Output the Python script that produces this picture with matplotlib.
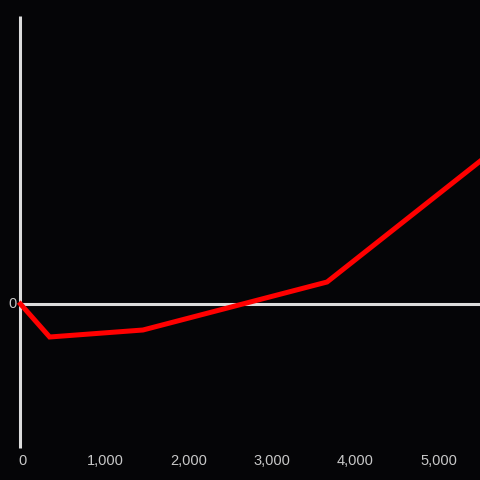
import matplotlib
matplotlib.use('Agg')
import matplotlib.pyplot as plt
import matplotlib.transforms as mtransforms

# values (y has no scale, only zero is labelled)
x_vals = [0, 350, 1470, 3680, 5520]
y_vals = [0, -33, -26, 22, 143]
x_ticks = [0, 1000, 2000, 3000, 4000, 5000]
x_labels = ['0', '1,000', '2,000', '3,000', '4,000', '5,000']

bg = '#050507'
axis_col = '#dcdcdc'
text_col = '#c8c8c8'

fig = plt.figure(figsize=(4.8, 4.8), dpi=100, facecolor=bg)
ax = fig.add_axes([0, 0, 1, 1], facecolor=bg)
ax.set_xlim(-246, 5516)
ax.set_ylim(-176, 304)
ax.axis('off')

# axis lines
ax.plot([0, 0], [-144, 288], color=axis_col, lw=2.2, solid_capstyle='butt', zorder=1)
ax.plot([0, 5516], [0, 0], color=axis_col, lw=2.2, solid_capstyle='butt', zorder=1)

ax.plot(x_vals, y_vals, color='#ff0000', lw=3.6, solid_joinstyle='miter', zorder=3)

trans = mtransforms.blended_transform_factory(ax.transData, fig.transFigure)
for t, lab in zip(x_ticks, x_labels):
    ax.text(t + 20, 1 - 461 / 480, lab, transform=trans, ha='center', va='center',
            color=text_col, fontsize=10.5, family='Liberation Sans')
ax.text(-100, 0, '0', ha='center', va='center', color=text_col, fontsize=10.5,
        family='Liberation Sans')

fig.savefig('out.png', facecolor=bg)
